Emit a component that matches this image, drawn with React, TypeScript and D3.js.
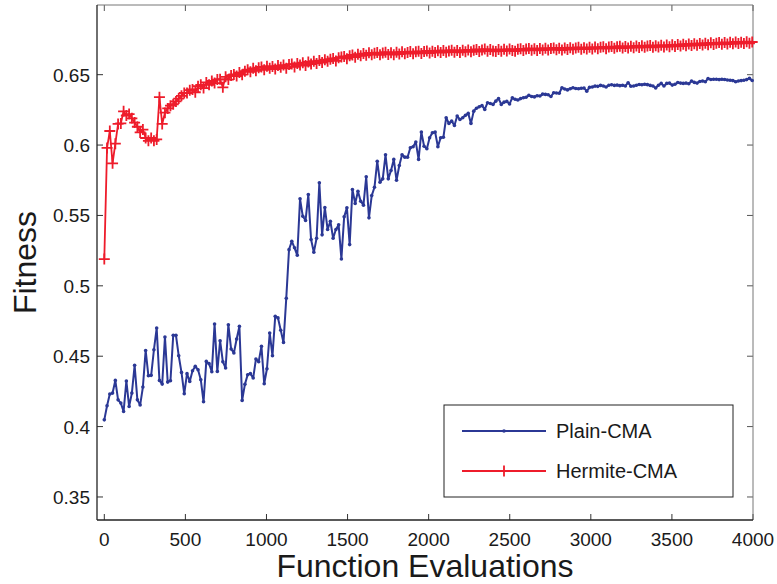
import React from "react";
import * as d3 from "d3";

const STEP = 17; // function evaluations between recorded points

const plainCMA = [
  0.4048, 0.4148, 0.4231, 0.4238, 0.4328, 0.419, 0.4167, 0.4107, 0.4324, 0.4143,
  0.4238, 0.4435, 0.419, 0.4153, 0.4281, 0.4541, 0.4361, 0.4364, 0.4546, 0.47,
  0.4328, 0.4302, 0.4636, 0.4316, 0.4326, 0.4648, 0.4648, 0.4503, 0.4385, 0.4233,
  0.4376, 0.4321, 0.4397, 0.4428, 0.4404, 0.4333, 0.4176, 0.4463, 0.4447, 0.439,
  0.4729, 0.4392, 0.461, 0.4461, 0.4416, 0.4724, 0.4551, 0.4523, 0.4622, 0.4712,
  0.4186, 0.43, 0.4368, 0.4376, 0.4345, 0.448, 0.4461, 0.457, 0.4304, 0.4411,
  0.4665, 0.4503, 0.4783, 0.4772, 0.4684, 0.4598, 0.4911, 0.5257, 0.5317, 0.527,
  0.5217, 0.5618, 0.5494, 0.5464, 0.5649, 0.5329, 0.5238, 0.5338, 0.5732, 0.5362,
  0.5556, 0.54, 0.5459, 0.5338, 0.54, 0.5433, 0.5191, 0.549, 0.5554, 0.5293,
  0.5684, 0.5585, 0.5672, 0.5601, 0.5573, 0.5775, 0.5483, 0.5641, 0.57, 0.5885,
  0.5736, 0.576, 0.5931, 0.576, 0.5819, 0.5898, 0.575, 0.5855, 0.5931, 0.5914,
  0.5914, 0.5981, 0.5988, 0.6021, 0.5898, 0.6092, 0.5992, 0.5974, 0.6052, 0.6087,
  0.6092, 0.5988, 0.6052, 0.6056, 0.6194, 0.6154, 0.617, 0.6139, 0.6206, 0.6182,
  0.6194, 0.6211, 0.6225, 0.6154, 0.6241, 0.6262, 0.6272, 0.628, 0.6253, 0.6301,
  0.6295, 0.6289, 0.6312, 0.6331, 0.6289, 0.6305, 0.631, 0.6292, 0.6336, 0.6325,
  0.632, 0.633, 0.6336, 0.634, 0.6353, 0.6345, 0.6342, 0.635, 0.6348, 0.6362,
  0.636, 0.6357, 0.6345, 0.6372, 0.637, 0.6368, 0.6407, 0.6398, 0.6392, 0.64,
  0.6407, 0.6402, 0.64, 0.6404, 0.6405, 0.6383, 0.641, 0.6412, 0.6419, 0.6417,
  0.6424, 0.642, 0.6412, 0.6425, 0.6428, 0.6424, 0.6426, 0.6422, 0.6425, 0.642,
  0.6443, 0.6418, 0.642, 0.6425, 0.643, 0.6428, 0.6432, 0.6429, 0.6424, 0.642,
  0.6405, 0.6425, 0.6438, 0.642, 0.6438, 0.644, 0.6426, 0.6432, 0.6444, 0.644,
  0.6438, 0.644, 0.6436, 0.6455, 0.6445, 0.644, 0.6452, 0.6455, 0.645, 0.6472,
  0.6466, 0.6468, 0.6467, 0.6465, 0.6468, 0.6466, 0.6462, 0.646, 0.6458, 0.645,
  0.6455, 0.6458, 0.646, 0.6465, 0.6474, 0.6459,
];

const hermiteCMA = [
  0.519, 0.598, 0.61, 0.587, 0.601, 0.615, 0.6154, 0.624, 0.621, 0.622,
  0.619, 0.616, 0.613, 0.609, 0.611, 0.605, 0.603, 0.605, 0.603, 0.604,
  0.634, 0.615, 0.623, 0.626, 0.628, 0.629, 0.631, 0.633, 0.635, 0.637,
  0.637, 0.639,
  0.6395, 0.6375, 0.6418, 0.6428, 0.6405, 0.6445, 0.6428, 0.6455, 0.644, 0.6465,
  0.6468, 0.641, 0.6485, 0.6465, 0.6495, 0.6502, 0.649, 0.6515, 0.65, 0.6525,
  0.6535, 0.652, 0.6545, 0.6528, 0.655, 0.6555, 0.6535, 0.656, 0.6545, 0.6558,
  0.654, 0.6565, 0.6552, 0.6568, 0.6545, 0.6572, 0.6575, 0.6555, 0.658, 0.6568,
  0.6585, 0.6565, 0.659, 0.6575, 0.6596, 0.658, 0.66, 0.6586, 0.6606, 0.6595,
  0.661, 0.6615, 0.6598, 0.662, 0.6625, 0.663, 0.6614, 0.6635, 0.664, 0.6624,
  0.6645, 0.6634, 0.665, 0.6638, 0.6655, 0.6642, 0.6652, 0.6657, 0.6641, 0.6654,
  0.666, 0.6644, 0.6656, 0.6642, 0.666, 0.6647, 0.6662, 0.6649, 0.6658, 0.6664,
  0.6649, 0.6662, 0.6666, 0.6651, 0.6664, 0.6669, 0.6654, 0.6666, 0.6657, 0.667,
  0.6657, 0.6672, 0.6659, 0.6668, 0.6674, 0.666, 0.6672, 0.6658, 0.6674, 0.6663,
  0.6676, 0.6662, 0.6674, 0.6679, 0.6664, 0.6676, 0.6682, 0.6667, 0.6679, 0.6669,
  0.6665, 0.6679, 0.6667, 0.668, 0.6669, 0.6682, 0.6671, 0.6667, 0.668, 0.6684,
  0.6671, 0.6682, 0.6686, 0.6673, 0.6684, 0.6672, 0.6686, 0.6675, 0.6688, 0.6676,
  0.6686, 0.669, 0.6677, 0.6688, 0.6675, 0.669, 0.6679, 0.6692, 0.668, 0.669,
  0.6694, 0.6681, 0.6692, 0.6682, 0.6694, 0.6683, 0.6696, 0.6685, 0.6694, 0.6698,
  0.6685, 0.6696, 0.67, 0.6687, 0.6698, 0.6702, 0.6689, 0.67, 0.669, 0.6702,
  0.6692, 0.6704, 0.6693, 0.6706, 0.6695, 0.6704, 0.6708, 0.6695, 0.6706, 0.6697,
  0.6709, 0.6697, 0.671, 0.6699, 0.6712, 0.6701, 0.6714, 0.6703, 0.6716, 0.6705,
  0.6718, 0.6707, 0.672, 0.6709, 0.6722, 0.6711, 0.6724, 0.6713, 0.6726, 0.6715,
  0.6724, 0.6728, 0.6716, 0.6729, 0.6718, 0.673, 0.6719, 0.6732, 0.6721, 0.6731,
  0.6722, 0.6734, 0.6723, 0.6732,
];

const xTicks = [0, 500, 1000, 1500, 2000, 2500, 3000, 3500, 4000];
const yTicks = [0.35, 0.4, 0.45, 0.5, 0.55, 0.6, 0.65];
const seriesNames = ["Plain-CMA", "Hermite-CMA"];
const xLabel = "Function Evaluations";
const yLabel = "Fitness";

const BLUE = "#2b3895";
const RED = "#ee1c2b";
const FONT = "'Liberation Sans', Arial, Helvetica, sans-serif";

export default function App() {
  const W = 777, H = 584;
  const L = 97, R = 753, T = 5, B = 520;
  const x = d3.scaleLinear().domain([-45, 4000]).range([L, R]);
  const y = d3.scaleLinear().domain([0.33364, 0.6995]).range([B, T]);

  const blueData = plainCMA.map((v, i) => [i * STEP, v] as [number, number]);
  const redData = hermiteCMA.map((v, i) => [i * STEP, v] as [number, number]);
  const line = d3
    .line<[number, number]>()
    .x((d) => x(d[0]))
    .y((d) => y(d[1]));

  const cross = (cx: number, cy: number, s: number) =>
    `M${cx - s},${cy}h${2 * s}M${cx},${cy - s}v${2 * s}`;
  const redMarkers = redData.map((d) => cross(x(d[0]), y(d[1]), 5.5)).join("");

  const tl = 6;
  const legX = 444, legY = 405, legW = 289, legH = 92;
  const ly1 = 431, ly2 = 471, lx1 = 462, lx2 = 546;

  return (
    <div style={{ position: "absolute", left: 0, top: 0 }}>
      <svg width={W} height={H} style={{ display: "block", background: "#fff" }}>
        <rect x={0} y={0} width={W} height={H} fill="#fff" />
        {/* ticks */}
        {xTicks.map((t) => (
          <g key={"xt" + t}>
            <line x1={x(t)} x2={x(t)} y1={B} y2={B - tl} stroke="#333" strokeWidth={1} />
            <line x1={x(t)} x2={x(t)} y1={T} y2={T + tl} stroke="#555" strokeWidth={1} />
            <text x={x(t)} y={546} textAnchor="middle" fontFamily={FONT} fontSize={19} fill="#1a1a1a">
              {t}
            </text>
          </g>
        ))}
        {yTicks.map((t) => (
          <g key={"yt" + t}>
            <line x1={L} x2={L + tl} y1={y(t)} y2={y(t)} stroke="#333" strokeWidth={1} />
            <line x1={R} x2={R - tl} y1={y(t)} y2={y(t)} stroke="#555" strokeWidth={1} />
            <text x={90} y={y(t) + 7} textAnchor="end" fontFamily={FONT} fontSize={19} fill="#1a1a1a">
              {String(t)}
            </text>
          </g>
        ))}
        {/* box */}
        <line x1={L} x2={R} y1={T} y2={T} stroke="#777" strokeWidth={1} />
        <line x1={R} x2={R} y1={T} y2={B} stroke="#777" strokeWidth={1} />
        <line x1={L} x2={L} y1={T} y2={B} stroke="#222" strokeWidth={1.3} />
        <line x1={L} x2={R} y1={B} y2={B} stroke="#222" strokeWidth={1.3} />

        {/* Plain-CMA */}
        <path d={line(blueData) || ""} fill="none" stroke={BLUE} strokeWidth={2} strokeLinejoin="round" />
        {blueData.map((d, i) => (
          <circle key={"b" + i} cx={x(d[0])} cy={y(d[1])} r={1.8} fill={BLUE} />
        ))}
        {/* Hermite-CMA */}
        <path d={line(redData) || ""} fill="none" stroke={RED} strokeWidth={1.8} strokeLinejoin="round" />
        <path d={redMarkers} fill="none" stroke={RED} strokeWidth={1.8} />

        {/* legend */}
        <rect x={legX} y={legY} width={legW} height={legH} fill="#fff" stroke="#222" strokeWidth={1} />
        <line x1={lx1} x2={lx2} y1={ly1} y2={ly1} stroke={BLUE} strokeWidth={1.8} />
        <circle cx={(lx1 + lx2) / 2} cy={ly1} r={1.8} fill={BLUE} />
        <text x={556} y={ly1 + 7} fontFamily={FONT} fontSize={20} fill="#1a1a1a">
          {seriesNames[0]}
        </text>
        <line x1={lx1} x2={lx2} y1={ly2} y2={ly2} stroke={RED} strokeWidth={1.8} />
        <path d={cross((lx1 + lx2) / 2, ly2, 5.5)} stroke={RED} strokeWidth={1.8} fill="none" />
        <text x={556} y={ly2 + 7} fontFamily={FONT} fontSize={20} fill="#1a1a1a">
          {seriesNames[1]}
        </text>

        {/* axis labels */}
        <text x={(L + R) / 2} y={577} textAnchor="middle" fontFamily={FONT} fontSize={32} fill="#1a1a1a">
          {xLabel}
        </text>
        <text
          transform={`translate(36, ${(T + B) / 2}) rotate(-90)`}
          textAnchor="middle"
          fontFamily={FONT}
          fontSize={32}
          fill="#1a1a1a"
        >
          {yLabel}
        </text>
      </svg>
    </div>
  );
}
